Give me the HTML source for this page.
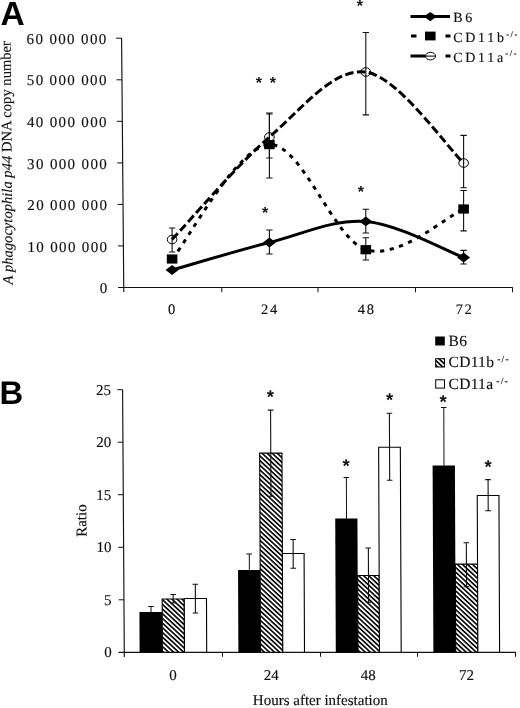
<!DOCTYPE html>
<html><head><meta charset="utf-8"><title>Figure</title>
<style>
html,body{margin:0;padding:0;background:#fff;}
svg{display:block;}
text{font-family:"Liberation Serif","Times New Roman",serif;fill:#111;stroke:#111;stroke-width:0.15px;text-rendering:geometricPrecision;}
.ast{font-family:"Liberation Sans",Arial,sans-serif;font-weight:bold;fill:#111;stroke:none;}
.sans{font-family:"Liberation Sans",Arial,sans-serif;font-weight:bold;fill:#000;stroke:none;}
</style></head><body>
<svg width="520" height="708" viewBox="0 0 520 708">
<defs>
<pattern id="hatch" width="3.44" height="3.44" patternUnits="userSpaceOnUse" patternTransform="rotate(43)">
<rect x="0" y="0" width="3.44" height="1.62" fill="#000"/>
</pattern>
</defs>
<rect width="520" height="708" fill="#fff"/>

<text class="sans" x="0.4" y="25.2" font-size="33.5">A</text>
<path d="M121.60 38L123.79 292.0M118 287.5H512.8" stroke="#111" stroke-width="1.15" fill="none"/>
<path d="M123.39 245.9h-5.5M123.03 204.4h-5.5M122.68 162.9h-5.5M122.32 121.3h-5.5M121.96 79.8h-5.5M121.60 38.2h-5.5M221.8 287.5v4.8M318.0 287.5v4.8M415.5 287.5v4.8M512.5 287.5v4.8" stroke="#111" stroke-width="1" fill="none"/>
<text x="108.6" y="292.5" font-size="15" text-anchor="end" letter-spacing="1.35" word-spacing="0">0</text>
<text x="108.4" y="251.5" font-size="15" text-anchor="end" letter-spacing="1.35" word-spacing="0">10 000 000</text>
<text x="108.3" y="210.0" font-size="15" text-anchor="end" letter-spacing="1.35" word-spacing="0">20 000 000</text>
<text x="108.1" y="168.5" font-size="15" text-anchor="end" letter-spacing="1.35" word-spacing="0">30 000 000</text>
<text x="107.9" y="126.9" font-size="15" text-anchor="end" letter-spacing="1.35" word-spacing="0">40 000 000</text>
<text x="107.8" y="85.3" font-size="15" text-anchor="end" letter-spacing="1.35" word-spacing="0">50 000 000</text>
<text x="107.6" y="43.8" font-size="15" text-anchor="end" letter-spacing="1.35" word-spacing="0">60 000 000</text>
<text x="172.4" y="313.6" font-size="14.5" text-anchor="middle" letter-spacing="1.7">0</text>
<text x="269.9" y="313.6" font-size="14.5" text-anchor="middle" letter-spacing="1.7">24</text>
<text x="366.7" y="313.6" font-size="14.5" text-anchor="middle" letter-spacing="1.7">48</text>
<text x="464.6" y="313.6" font-size="14.5" text-anchor="middle" letter-spacing="1.7">72</text>
<text transform="translate(12.7 284.4) rotate(-90.5)" font-size="14.6"><tspan font-style="italic" font-size="14.6">A phagocytophila p44</tspan> DNA copy number</text>
<path d="M172.1 228.0V252.0M168.9 228.0h6.4M168.9 252.0h6.4" stroke="#111" stroke-width="1.1" fill="none"/>
<path d="M269.4 113.0V158.0M266.2 113.0h6.4M266.2 158.0h6.4" stroke="#111" stroke-width="1.1" fill="none"/>
<path d="M365.8 32.5V114.9M362.6 32.5h6.4M362.6 114.9h6.4" stroke="#111" stroke-width="1.1" fill="none"/>
<path d="M463.6 135.4V187.7M460.4 135.4h6.4M460.4 187.7h6.4" stroke="#111" stroke-width="1.1" fill="none"/>
<path d="M269.4 114.0V178.0M266.2 114.0h6.4M266.2 178.0h6.4" stroke="#111" stroke-width="1.1" fill="none"/>
<path d="M365.8 237.8V260.0M362.6 237.8h6.4M362.6 260.0h6.4" stroke="#111" stroke-width="1.1" fill="none"/>
<path d="M463.6 190.5V230.9M460.4 190.5h6.4M460.4 230.9h6.4" stroke="#111" stroke-width="1.1" fill="none"/>
<path d="M269.4 230.0V254.0M266.2 230.0h6.4M266.2 254.0h6.4" stroke="#111" stroke-width="1.1" fill="none"/>
<path d="M365.8 209.3V233.0M362.6 209.3h6.4M362.6 233.0h6.4" stroke="#111" stroke-width="1.1" fill="none"/>
<path d="M463.6 250.4V264.0M460.4 250.4h6.4M460.4 264.0h6.4" stroke="#111" stroke-width="1.1" fill="none"/>
<path d="M172.10 239.50 C188.32 222.42 237.12 164.92 269.40 137.00 C301.68 109.08 333.43 67.67 365.80 72.00 C398.17 76.33 447.30 147.83 463.60 163.00" stroke="#000" stroke-width="3" fill="none" stroke-dasharray="8.5 3.5"/>
<path d="M172.10 259.00 C188.32 239.93 237.12 146.15 269.40 144.60 C301.68 143.05 333.43 238.97 365.80 249.70 C398.17 260.43 447.30 215.78 463.60 209.00" stroke="#000" stroke-width="3" fill="none" stroke-dasharray="4.2 5.6"/>
<path d="M172.10 270.00 C188.32 265.42 237.12 250.60 269.40 242.50 C301.68 234.40 333.43 218.90 365.80 221.40 C398.17 223.90 447.30 251.48 463.60 257.50" stroke="#000" stroke-width="3" fill="none"/>
<ellipse cx="172.1" cy="239.5" rx="4.8" ry="4.3" fill="none" stroke="#000" stroke-width="1"/>
<ellipse cx="269.4" cy="137.0" rx="4.8" ry="4.3" fill="none" stroke="#000" stroke-width="1"/>
<ellipse cx="365.8" cy="72.0" rx="4.8" ry="4.3" fill="none" stroke="#000" stroke-width="1"/>
<ellipse cx="463.6" cy="163.0" rx="4.8" ry="4.3" fill="none" stroke="#000" stroke-width="1"/>
<rect x="166.8" y="254.4" width="10.6" height="9.2" fill="#000"/>
<rect x="264.1" y="140.0" width="10.6" height="9.2" fill="#000"/>
<rect x="360.5" y="245.1" width="10.6" height="9.2" fill="#000"/>
<rect x="458.3" y="204.4" width="10.6" height="9.2" fill="#000"/>
<path d="M172.1 265.1l6.5 4.9l-6.5 4.9l-6.5-4.9z" fill="#000"/>
<path d="M269.4 237.6l6.5 4.9l-6.5 4.9l-6.5-4.9z" fill="#000"/>
<path d="M365.8 216.5l6.5 4.9l-6.5 4.9l-6.5-4.9z" fill="#000"/>
<path d="M463.6 252.6l6.5 4.9l-6.5 4.9l-6.5-4.9z" fill="#000"/>
<text class="ast" x="258.9" y="88.1" font-size="16" text-anchor="middle">*</text>
<text class="ast" x="272.8" y="88.1" font-size="16" text-anchor="middle">*</text>
<text class="ast" x="359.9" y="11.1" font-size="16" text-anchor="middle">*</text>
<text class="ast" x="265.2" y="217.9" font-size="16" text-anchor="middle">*</text>
<text class="ast" x="360.8" y="197.1" font-size="16" text-anchor="middle">*</text>
<path d="M410.5 16.6H450" stroke="#000" stroke-width="3"/>
<path d="M430.3 11.9l6.5 4.7l-6.5 4.7l-6.5-4.7z" fill="#000"/>
<path d="M411 35.9H416.5M445.5 35.9H450.5" stroke="#000" stroke-width="3"/>
<rect x="425" y="31.6" width="10.6" height="8.8" fill="#000"/>
<path d="M410.5 56.1H425.5M445.5 56.1H450.5" stroke="#000" stroke-width="3"/>
<path d="M425.5 56.1H435.5" stroke="#000" stroke-width="1"/>
<ellipse cx="430.5" cy="56.1" rx="5" ry="3.8" fill="none" stroke="#000" stroke-width="1"/>
<text x="453.2" y="21.6" font-size="14" letter-spacing="2.7">B6</text>
<text x="453.2" y="42.2" font-size="14" letter-spacing="2.7">CD11b<tspan font-size="8.5" dy="-5.5" dx="-0.5" letter-spacing="1.6">-/-</tspan></text>
<text x="453.2" y="61.7" font-size="14" letter-spacing="2.7">CD11a<tspan font-size="8.5" dy="-5.5" dx="-0.5" letter-spacing="1.6">-/-</tspan></text>
<text class="sans" x="-0.6" y="403.7" font-size="32.8">B</text>
<path d="M122.60 389.7L124.33 657.0M118.5 652.3H515.8" stroke="#111" stroke-width="1.15" fill="none"/>
<path d="M123.96 599.8h-5.3M123.62 547.3h-5.3M123.28 494.7h-5.3M122.94 442.2h-5.3M122.60 389.7h-5.3M222.5 652.3v4.5M320.5 652.3v4.5M417.5 652.3v4.5M515.5 652.3v4.5" stroke="#111" stroke-width="1" fill="none"/>
<text x="111.8" y="657.3" font-size="15" text-anchor="end">0</text>
<text x="111.6" y="604.8" font-size="15" text-anchor="end">5</text>
<text x="111.5" y="552.3" font-size="15" text-anchor="end">10</text>
<text x="111.3" y="499.7" font-size="15" text-anchor="end">15</text>
<text x="111.2" y="447.2" font-size="15" text-anchor="end">20</text>
<text x="111.0" y="394.7" font-size="15" text-anchor="end">25</text>
<text x="173.1" y="680.3" font-size="15" text-anchor="middle">0</text>
<text x="271.2" y="680.3" font-size="15" text-anchor="middle">24</text>
<text x="368.3" y="680.3" font-size="15" text-anchor="middle">48</text>
<text x="466.4" y="680.3" font-size="15" text-anchor="middle">72</text>
<text x="320.3" y="704.5" font-size="15" text-anchor="middle">Hours after infestation</text>
<text transform="translate(86.4 536.8) rotate(-90.35)" font-size="15">Ratio</text>
<g transform="matrix(1 0 0.0042 1 -2.740 0)">
<rect x="139.6" y="612.1" width="22.8" height="40.2" fill="#000"/>
<rect x="162.4" y="599.0" width="22.1" height="53.3" fill="#fff"/>
<rect x="162.4" y="599.0" width="22.1" height="53.3" fill="url(#hatch)" stroke="#000" stroke-width="1.1"/>
<rect x="184.5" y="598.5" width="22.2" height="53.8" fill="#fff" stroke="#000" stroke-width="1.1"/>
<path d="M151.2 606.6V612.5M148.4 606.6h5.6" stroke="#111" stroke-width="1" fill="none"/>
<path d="M173.4 594.5V603.0M170.6 594.5h5.6M170.6 603.0h5.6" stroke="#111" stroke-width="1.1" fill="none"/>
<path d="M195.6 584.2V613.0M192.8 584.2h5.6M192.8 613.0h5.6" stroke="#111" stroke-width="1.1" fill="none"/>
<rect x="238.4" y="570.0" width="22.1" height="82.3" fill="#000"/>
<rect x="260.5" y="453.1" width="22.3" height="199.2" fill="#fff"/>
<rect x="260.5" y="453.1" width="22.3" height="199.2" fill="url(#hatch)" stroke="#000" stroke-width="1.1"/>
<rect x="282.8" y="553.5" width="21.7" height="98.8" fill="#fff" stroke="#000" stroke-width="1.1"/>
<path d="M249.7 553.9V570.4M246.8 553.9h5.6" stroke="#111" stroke-width="1" fill="none"/>
<path d="M271.6 410.1V496.2M268.8 410.1h5.6M268.8 496.2h5.6" stroke="#111" stroke-width="1.1" fill="none"/>
<path d="M293.6 539.5V568.3M290.8 539.5h5.6M290.8 568.3h5.6" stroke="#111" stroke-width="1.1" fill="none"/>
<rect x="335.8" y="518.4" width="22.2" height="133.9" fill="#000"/>
<rect x="358.0" y="575.5" width="21.5" height="76.8" fill="#fff"/>
<rect x="358.0" y="575.5" width="21.5" height="76.8" fill="url(#hatch)" stroke="#000" stroke-width="1.1"/>
<rect x="379.5" y="447.2" width="21.7" height="205.1" fill="#fff" stroke="#000" stroke-width="1.1"/>
<path d="M347.1 477.5V518.8M344.3 477.5h5.6" stroke="#111" stroke-width="1" fill="none"/>
<path d="M368.8 548.0V602.2M365.9 548.0h5.6M365.9 602.2h5.6" stroke="#111" stroke-width="1.1" fill="none"/>
<path d="M390.4 413.3V480.3M387.6 413.3h5.6M387.6 480.3h5.6" stroke="#111" stroke-width="1.1" fill="none"/>
<rect x="433.4" y="465.4" width="22.3" height="186.9" fill="#000"/>
<rect x="455.7" y="564.1" width="22.2" height="88.2" fill="#fff"/>
<rect x="455.7" y="564.1" width="22.2" height="88.2" fill="url(#hatch)" stroke="#000" stroke-width="1.1"/>
<rect x="477.9" y="495.5" width="21.7" height="156.8" fill="#fff" stroke="#000" stroke-width="1.1"/>
<path d="M444.8 407.6V465.8M441.9 407.6h5.6" stroke="#111" stroke-width="1" fill="none"/>
<path d="M466.8 542.7V586.8M464.0 542.7h5.6M464.0 586.8h5.6" stroke="#111" stroke-width="1.1" fill="none"/>
<path d="M488.8 479.6V510.8M485.9 479.6h5.6M485.9 510.8h5.6" stroke="#111" stroke-width="1.1" fill="none"/>
</g>
<text class="ast" x="270.4" y="403.1" font-size="18.5" text-anchor="middle">*</text>
<text class="ast" x="346.2" y="471.6" font-size="18.5" text-anchor="middle">*</text>
<text class="ast" x="389.7" y="405.7" font-size="18.5" text-anchor="middle">*</text>
<text class="ast" x="443.2" y="407.7" font-size="18.5" text-anchor="middle">*</text>
<text class="ast" x="488.1" y="472.8" font-size="18.5" text-anchor="middle">*</text>
<rect x="435.2" y="336.5" width="9.6" height="9" fill="#000"/>
<rect x="435.7" y="358.7" width="8.8" height="8.3" fill="#fff"/>
<rect x="435.7" y="358.7" width="8.8" height="8.3" fill="url(#hatch)" stroke="#000" stroke-width="1"/>
<rect x="435.7" y="379.8" width="8.8" height="8.3" fill="#fff" stroke="#000" stroke-width="1"/>
<text x="448.5" y="345.7" font-size="15.5" letter-spacing="0.3">B6</text>
<text x="448.5" y="367.2" font-size="15.5" letter-spacing="0.3">CD11b<tspan font-size="9.5" dy="-5" dx="3" letter-spacing="1.2">-/-</tspan></text>
<text x="448.5" y="388.7" font-size="15.5" letter-spacing="0.3">CD11a<tspan font-size="9.5" dy="-5" dx="3" letter-spacing="1.2">-/-</tspan></text>
</svg></body></html>
